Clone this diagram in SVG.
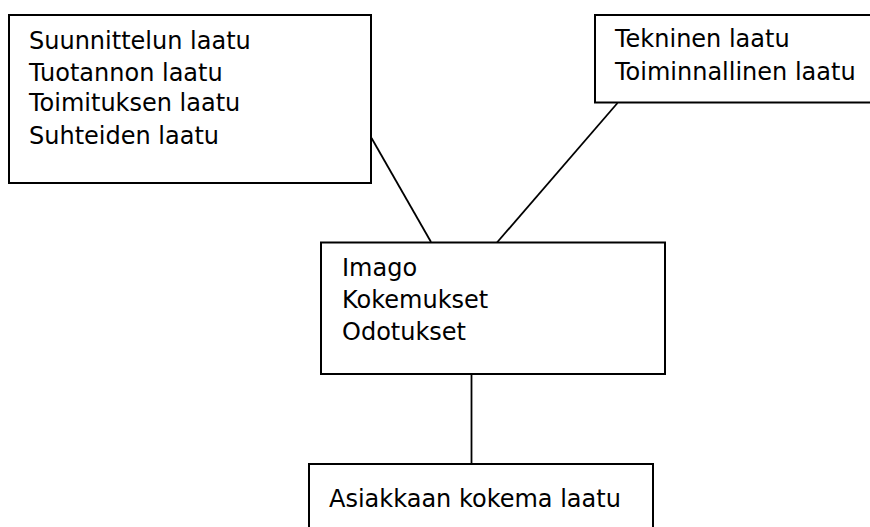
<svg xmlns="http://www.w3.org/2000/svg" width="870" height="527" viewBox="0 0 870 527">
<style>
.box{fill:#fff;stroke:#000;stroke-width:2}
.t{font-family:"DejaVu Sans","Liberation Sans",sans-serif;font-size:24px;fill:#000}
.c{stroke:#000;stroke-width:1.8;fill:none}
</style>
<rect width="870" height="527" fill="#fff"/>
<g id="connectors">
<line class="c" x1="371.5" y1="138" x2="431" y2="242"/>
<line class="c" x1="617.5" y1="103" x2="497" y2="242.5"/>
<line class="c" x1="471.5" y1="374" x2="471.5" y2="464"/>
</g>
<g id="n1">
<rect class="box" x="9" y="15" width="362" height="168"/>
<text class="t" x="29" y="49">Suunnittelun laatu</text>
<text class="t" x="29" y="81">Tuotannon laatu</text>
<text class="t" x="29" y="111">Toimituksen laatu</text>
<text class="t" x="29" y="144">Suhteiden laatu</text>
</g>
<g id="n2">
<rect class="box" x="595" y="15" width="285" height="87.5"/>
<text class="t" x="615" y="47">Tekninen laatu</text>
<text class="t" x="615" y="80">Toiminnallinen laatu</text>
</g>
<g id="n3">
<rect class="box" x="321" y="242.5" width="344" height="131.5"/>
<text class="t" x="342" y="276">Imago</text>
<text class="t" x="342" y="308">Kokemukset</text>
<text class="t" x="342" y="340">Odotukset</text>
</g>
<g id="n4">
<rect class="box" x="309" y="464" width="344" height="80"/>
<text class="t" x="329" y="507">Asiakkaan kokema laatu</text>
</g>
</svg>
